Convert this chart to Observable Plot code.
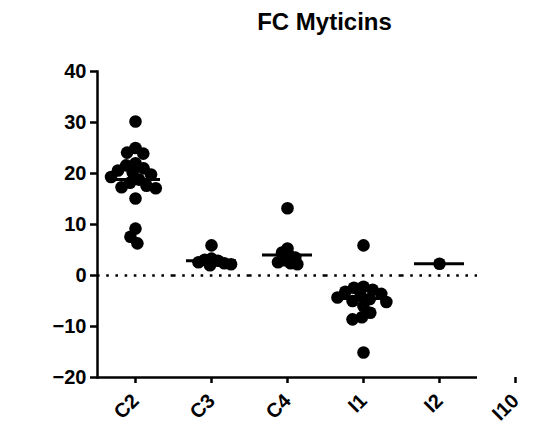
<!DOCTYPE html>
<html>
<head>
<meta charset="utf-8">
<script src="https://cdn.jsdelivr.net/npm/d3@7"></script>
<script src="https://cdn.jsdelivr.net/npm/@observablehq/plot@0.6"></script>
<style>
  html, body { margin: 0; padding: 0; background: #fff; }
  #wrap { position: relative; width: 551px; height: 422px; overflow: hidden; font-family: "Liberation Sans", Arial, sans-serif; }
  #title { position: absolute; top: 10px; left: 0; width: 649px; text-align: center; font-size: 24px; line-height: 24px; font-weight: bold; color: #000; }
  #ylabel { position: absolute; left: 25px; top: 232px; transform: translate(-50%, -50%) rotate(-90deg); font-size: 22px; line-height: 22px; font-weight: bold; white-space: nowrap; }
  #chart { position: absolute; top: 50px; left: 0; }
</style>
</head>
<body>
<div id="wrap">
  <div id="title">FC Myticins</div>
  <div id="ylabel">FC</div>
  <div id="chart"></div>
</div>
<script>
// Categories (x axis tick labels)
const categories = ["C2", "C3", "C4", "I1", "I2", "I10"];
// Fold-change values per category
const valuesC2 = [30.2, 25.0, 24.1, 23.9, 22.0, 21.6, 21.0, 20.6, 20.2, 19.8, 19.3, 18.8, 18.2, 17.6, 17.3, 17.1, 15.1, 9.2, 7.6, 6.3];
const valuesC3 = [5.9, 3.3, 3.1, 2.9, 2.6, 2.4, 2.2, 2.0];
const valuesC4 = [13.2, 5.3, 4.5, 4.0, 3.5, 3.0, 2.6, 2.4, 2.2];
const valuesI1 = [5.9, -2.2, -2.4, -2.8, -3.2, -3.6, -4.0, -4.3, -4.6, -5.0, -5.2, -6.0, -7.3, -8.2, -8.6, -15.1];
const valuesI2 = [2.3];
const valuesI10 = [];
// Mean lines
const means = [18.8, 2.9, 4.0, -4.5, 2.3];
const meanCats = ["C2", "C3", "C4", "I1", "I2"];
// Y axis ticks
const yTicks = [-20, -10, 0, 10, 20, 30, 40];

const seriesList = [valuesC2, valuesC3, valuesC4, valuesI1, valuesI2, valuesI10];
const points = [];
seriesList.forEach((vals, k) => vals.forEach(v => points.push({cat: categories[k], v})));
const meanRows = meanCats.map((c, k) => ({cat: c, mean: means[k]}));
const tight = new Set(["C3", "C4"]);

const dotOpts = {fx: "cat", y: "v", r: 6.3, fill: "#000", stroke: "none"};

const chart = Plot.plot({
  width: 551,
  height: 372,
  marginLeft: 95,
  marginRight: 0,
  marginTop: 21,
  marginBottom: 45,
  style: {fontFamily: "'Liberation Sans', Arial, sans-serif", fontSize: "20px", fontWeight: "bold", color: "#000", background: "#fff", overflow: "visible"},
  fx: {domain: categories, range: [95, 555], padding: 0, axis: null},
  y: {domain: [-20, 40], axis: null},
  marks: [
    Plot.ruleY([0], {stroke: "#000", strokeWidth: 2.6, strokeDasharray: "2.6,6.6"}),
    Plot.ruleY([-20], {stroke: "#000", strokeWidth: 2.5}),
    Plot.frame({anchor: "left", facetAnchor: "left", stroke: "#000", strokeWidth: 2.5}),
    Plot.axisY({ticks: yTicks, tickSize: 7, tickPadding: 4, strokeWidth: 2.5, label: null, fontSize: 20}),
    Plot.axisFx({anchor: "bottom", tickSize: 6, tickPadding: 14, tickRotate: -45, strokeWidth: 2.5, label: null, fontSize: 20}),
    Plot.dot(points.filter(d => !tight.has(d.cat)), Plot.dodgeX({anchor: "middle", padding: -3}, dotOpts)),
    Plot.dot(points.filter(d => tight.has(d.cat)), Plot.dodgeX({anchor: "middle", padding: -5.8}, dotOpts)),
    Plot.tickY(meanRows, {fx: "cat", y: "mean", stroke: "#000", strokeWidth: 3, insetLeft: 13, insetRight: 13})
  ]
});
document.getElementById("chart").appendChild(chart);
</script>
</body>
</html>
